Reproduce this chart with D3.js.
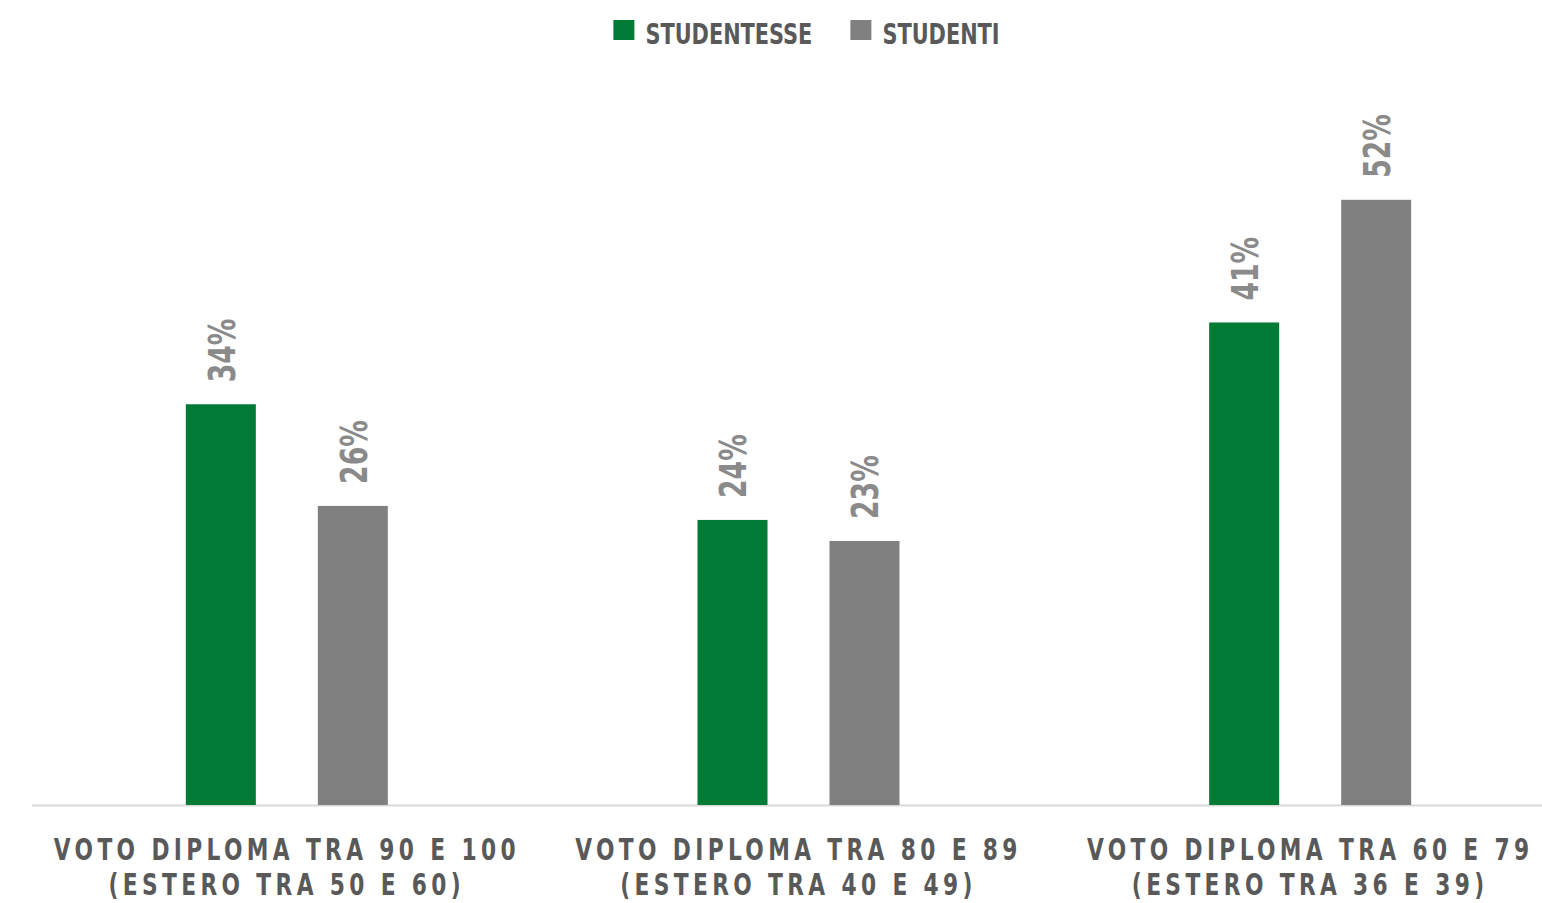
<!DOCTYPE html>
<html lang="it">
<head>
    <meta charset="UTF-8">
    <title>Voto diploma - studentesse e studenti</title>
    <script src="https://d3js.org/d3.v7.min.js"></script>
    <style>
        body {
            margin: 0;
            background: #ffffff;
            overflow: hidden;
        }

        svg text {
            font-family: "DejaVu Sans Condensed", "DejaVu Sans", sans-serif;
            font-stretch: condensed;
            font-weight: bold;
        }
    </style>
</head>
<body>
    <svg id="chart" width="1542" height="903"></svg>

    <script>
        // categories (two text lines each)
        const categories = ["g1", "g2", "g3"];
        const catLine1 = ["VOTO DIPLOMA TRA 90 E 100", "VOTO DIPLOMA TRA 80 E 89", "VOTO DIPLOMA TRA 60 E 79"];
        const catLine2 = ["(ESTERO TRA 50 E 60)", "(ESTERO TRA 40 E 49)", "(ESTERO TRA 36 E 39)"];

        // series
        const seriesNames = ["STUDENTESSE", "STUDENTI"];
        const studentesse = [34.3, 24.4, 41.3];
        const studenti = [25.6, 22.6, 51.8];
        const seriesColors = ["#007b35", "#808080"];

        const svg = d3.select("#chart");

        const baseY = 805;
        const topY = 104;

        // the plot area runs a bit past the right edge of the window
        const x0 = d3.scaleBand()
            .domain(categories)
            .range([31, 1566]);

        const bw = x0.bandwidth();
        const x1 = d3.scaleBand()
            .domain(seriesNames)
            .range([bw / 2 - 101, bw / 2 + 101])
            .paddingInner(0.4697);

        const y = d3.scaleLinear()
            .domain([0, 60])
            .range([baseY, topY]);

        const color = d3.scaleOrdinal().domain(seriesNames).range(seriesColors);

        const rows = categories.map((c, i) => ({
            cat: c,
            values: [
                { key: seriesNames[0], value: studentesse[i] },
                { key: seriesNames[1], value: studenti[i] }
            ]
        }));

        // the font on hand is wider than the original one: squeeze it horizontally
        const squeeze = 0.78;

        // baseline
        svg.append("line")
            .attr("x1", 32)
            .attr("x2", 1542)
            .attr("y1", baseY + 0.5)
            .attr("y2", baseY + 0.5)
            .attr("stroke", "#d9d9d9")
            .attr("stroke-width", 2);

        const groups = svg.selectAll("g.group")
            .data(rows)
            .enter()
            .append("g")
            .attr("class", "group")
            .attr("transform", d => `translate(${x0(d.cat)},0)`);

        groups.selectAll("rect")
            .data(d => d.values)
            .enter()
            .append("rect")
            .attr("x", d => x1(d.key))
            .attr("y", d => y(d.value))
            .attr("width", x1.bandwidth())
            .attr("height", d => baseY - y(d.value))
            .attr("fill", d => color(d.key));

        // rotated value labels
        groups.selectAll("text.val")
            .data(d => d.values)
            .enter()
            .append("text")
            .attr("class", "val")
            .attr("transform", d => `translate(${x1(d.key) + x1.bandwidth() / 2},${y(d.value) - 22}) rotate(-90) scale(${squeeze},1)`)
            .attr("dy", "0.36em")
            .attr("text-anchor", "start")
            .attr("fill", "#8a8a8a")
            .style("font-size", "38px")
            .text(d => Math.round(d.value) + "%");

        // category labels
        const catText = svg.selectAll("text.cat")
            .data(categories)
            .enter()
            .append("text")
            .attr("class", "cat")
            .attr("transform", d => `translate(${x0(d) + bw / 2},0) scale(${squeeze},1)`)
            .attr("text-anchor", "middle")
            .attr("fill", "#595959")
            .style("font-size", "31px")
            .style("letter-spacing", "5.6px");

        catText.append("tspan")
            .attr("x", 0)
            .attr("y", 860)
            .text((d, i) => catLine1[i]);

        catText.append("tspan")
            .attr("x", 0)
            .attr("y", 895)
            .text((d, i) => catLine2[i]);

        // legend, centred on the plot area
        const legend = svg.append("g");
        let lx = 0;
        seriesNames.forEach((name, i) => {
            const item = legend.append("g").attr("transform", `translate(${lx},0)`);
            item.append("rect")
                .attr("x", 0)
                .attr("y", 20)
                .attr("width", 21)
                .attr("height", 20)
                .attr("fill", color(name));
            const t = item.append("text")
                .attr("transform", `translate(32,0) scale(0.8,1)`)
                .attr("y", 44)
                .attr("fill", "#595959")
                .style("font-size", "29px")
                .text(name);
            lx += 32 + t.node().getComputedTextLength() * 0.8 + 38;
        });
        const lw = lx - 38;
        const cx = (x0.range()[0] + x0.range()[1]) / 2 + 8;
        legend.attr("transform", `translate(${cx - lw / 2},0)`);
    </script>
</body>
</html>
